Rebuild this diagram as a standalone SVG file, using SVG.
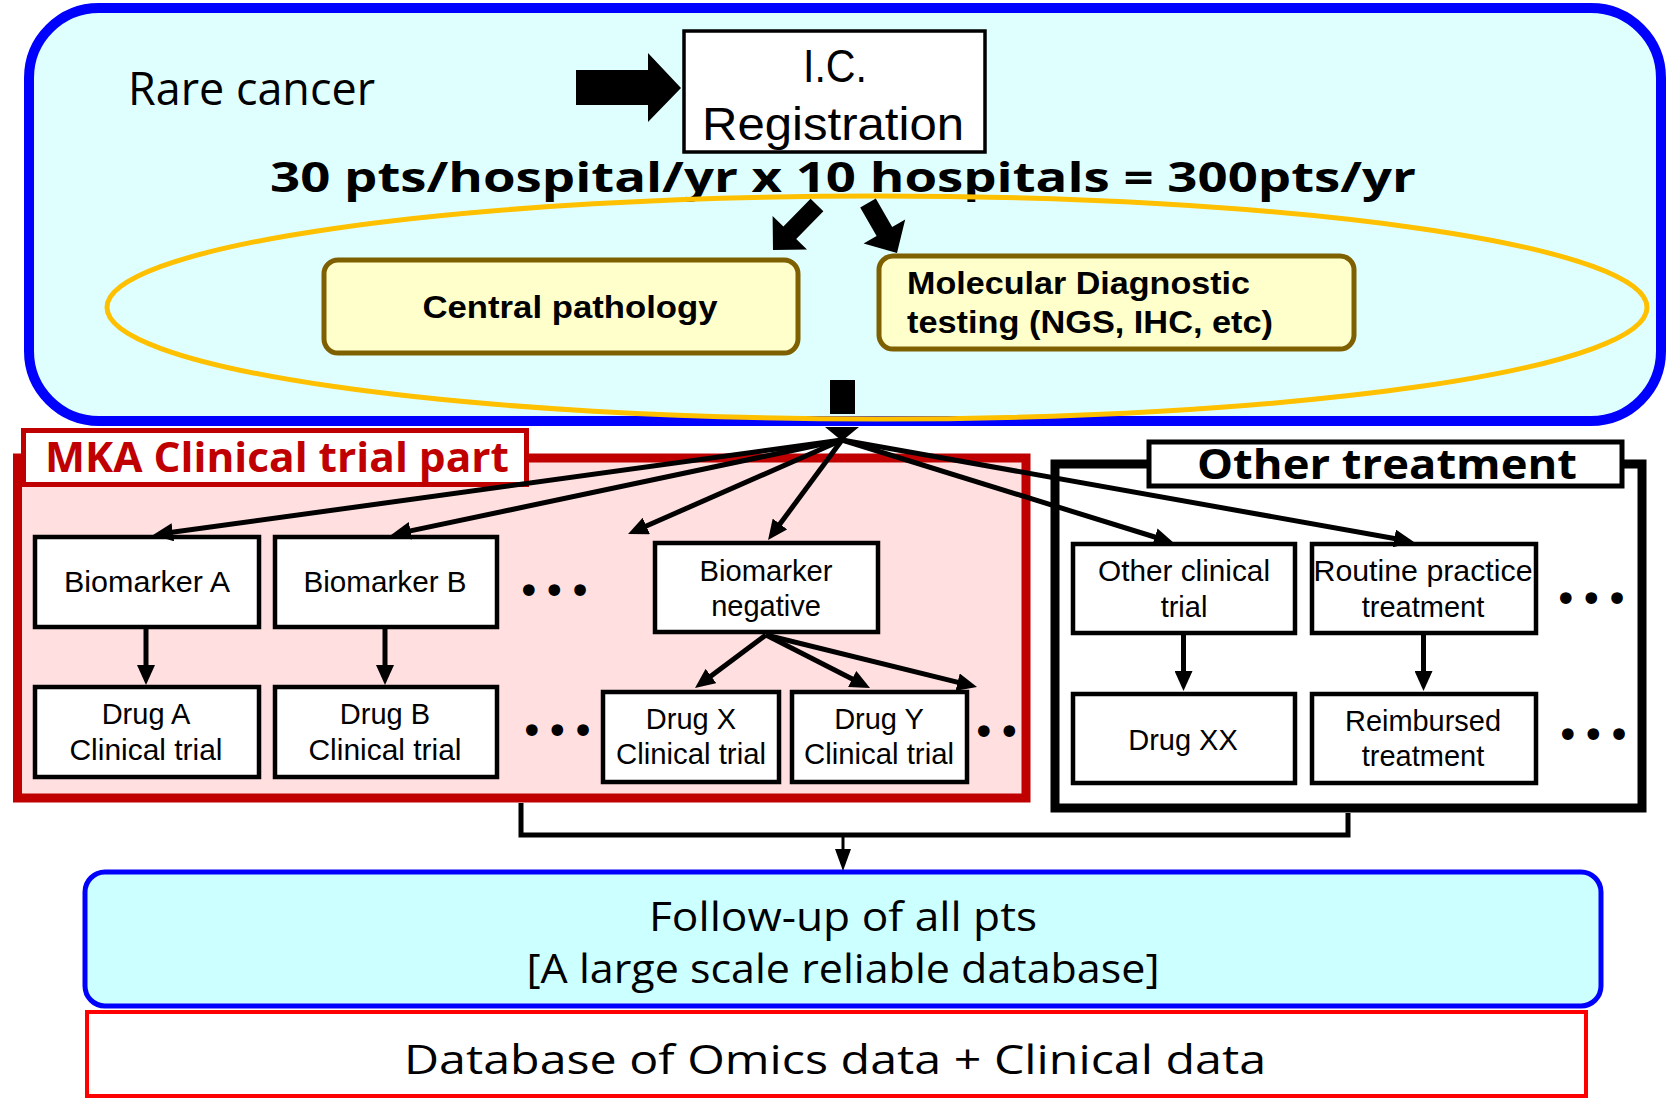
<svg xmlns="http://www.w3.org/2000/svg" width="1668" height="1098" viewBox="0 0 1668 1098">
<defs>
<marker id="ah" viewBox="0 0 20 18" refX="10" refY="9" markerWidth="20" markerHeight="18" markerUnits="userSpaceOnUse" orient="auto"><path d="M0,0 L20,9 L0,18 Z" fill="#000"/></marker>
<marker id="ahs" viewBox="0 0 22 16" refX="11" refY="8" markerWidth="22" markerHeight="16" markerUnits="userSpaceOnUse" orient="auto"><path d="M0,0 L22,8 L0,16 Z" fill="#000"/></marker>
<style>
text{font-family:"Open Sans","Liberation Sans",sans-serif;fill:#000}
.box{fill:#fff;stroke:#000;stroke-width:4.5}
.bt{font-family:"Liberation Sans",Arial,sans-serif;font-size:29px;text-anchor:middle}
.yb{fill:#FFFFCC;stroke:#7F6000;stroke-width:5}
.yt{font-family:"Liberation Sans",Arial,sans-serif;font-size:32px;font-weight:bold}
.ls{font-family:"Liberation Sans",Arial,sans-serif}
.ln{fill:none;stroke:#000;stroke-width:5;marker-end:url(#ah)}
.blk{fill:#000;stroke:none}
.dots{font-family:"DejaVu Sans",sans-serif;font-size:40px;letter-spacing:2px}
</style>
</defs>

<g id="registration-area">
<rect x="29" y="8" width="1632" height="413" rx="70" ry="70" fill="#DFFFFF" stroke="#0000FF" stroke-width="10"/>
<text x="128" y="105" font-size="45" textLength="247" lengthAdjust="spacingAndGlyphs">Rare cancer</text>
<text x="270" y="192" font-size="42" font-weight="bold" textLength="1146" lengthAdjust="spacingAndGlyphs">30 pts/hospital/yr x 10 hospitals = 300pts/yr</text>
</g>

<g id="ic-registration">
<rect x="684" y="31" width="301" height="121" fill="#fff" stroke="#000" stroke-width="3.5"/>
<text class="ls" x="835" y="82" font-size="46" text-anchor="middle" textLength="64" lengthAdjust="spacingAndGlyphs">I.C.</text>
<text class="ls" x="833" y="140" font-size="46" text-anchor="middle" textLength="262" lengthAdjust="spacingAndGlyphs">Registration</text>
</g>

<g id="diagnostics-ellipse">
<ellipse cx="877" cy="307.5" rx="770" ry="111.5" fill="none" stroke="#FFC000" stroke-width="5"/>
</g>

<g id="central-pathology">
<rect class="yb" x="324" y="260" width="474" height="93" rx="14" ry="14"/>
<text class="yt" x="570" y="318" text-anchor="middle" textLength="295" lengthAdjust="spacingAndGlyphs">Central pathology</text>
</g>

<g id="molecular-testing">
<rect class="yb" x="879" y="256" width="475" height="93" rx="14" ry="14"/>
<text class="yt" x="907" y="294" textLength="343" lengthAdjust="spacingAndGlyphs">Molecular Diagnostic</text>
<text class="yt" x="907" y="333" textLength="366" lengthAdjust="spacingAndGlyphs">testing (NGS, IHC, etc)</text>
</g>

<g id="mka-part">
<rect x="17.5" y="458" width="1008.5" height="340" fill="#FFDFDF" stroke="#C00000" stroke-width="9"/>
<rect x="23.5" y="430.5" width="503" height="54" fill="#fff" stroke="#C00000" stroke-width="5"/>
<text x="45" y="472" font-size="42" font-weight="bold" style="fill:#C00000" textLength="464" lengthAdjust="spacingAndGlyphs">MKA Clinical trial part</text>
</g>

<g id="other-treatment">
<rect x="1055" y="464" width="587" height="344" fill="#fff" stroke="#000" stroke-width="9"/>
<rect x="1149" y="442" width="473" height="44" fill="#fff" stroke="#000" stroke-width="5"/>
<text x="1197" y="479" font-size="42" font-weight="bold" textLength="380" lengthAdjust="spacingAndGlyphs">Other treatment</text>
</g>

<g id="biomarker-a">
<rect class="box" x="35" y="537" width="224" height="90"/>
<text class="bt" x="147" y="592" textLength="166" lengthAdjust="spacingAndGlyphs">Biomarker A</text>
</g>
<g id="biomarker-b">
<rect class="box" x="275" y="537" width="222" height="90"/>
<text class="bt" x="385" y="592" textLength="163" lengthAdjust="spacingAndGlyphs">Biomarker B</text>
</g>
<g id="drug-a">
<rect class="box" x="35" y="687" width="224" height="90"/>
<text class="bt" x="146" y="724">Drug A</text>
<text class="bt" x="146" y="760" textLength="153" lengthAdjust="spacingAndGlyphs">Clinical trial</text>
</g>
<g id="drug-b">
<rect class="box" x="275" y="687" width="222" height="90"/>
<text class="bt" x="385" y="724">Drug B</text>
<text class="bt" x="385" y="760" textLength="153" lengthAdjust="spacingAndGlyphs">Clinical trial</text>
</g>
<g id="biomarker-negative">
<rect class="box" x="655" y="543" width="223" height="89"/>
<text class="bt" x="766" y="581" textLength="133" lengthAdjust="spacingAndGlyphs">Biomarker</text>
<text class="bt" x="766" y="616">negative</text>
</g>
<g id="drug-x">
<rect class="box" x="603" y="692" width="176" height="90"/>
<text class="bt" x="691" y="729">Drug X</text>
<text class="bt" x="691" y="764" textLength="150" lengthAdjust="spacingAndGlyphs">Clinical trial</text>
</g>
<g id="drug-y">
<rect class="box" x="792" y="692" width="175" height="90"/>
<text class="bt" x="879" y="729">Drug Y</text>
<text class="bt" x="879" y="764" textLength="150" lengthAdjust="spacingAndGlyphs">Clinical trial</text>
</g>
<g id="other-clinical-trial">
<rect class="box" x="1073" y="544" width="222" height="89"/>
<text class="bt" x="1184" y="581" textLength="172" lengthAdjust="spacingAndGlyphs">Other clinical</text>
<text class="bt" x="1184" y="617">trial</text>
</g>
<g id="routine-practice">
<rect class="box" x="1312" y="544" width="224" height="89"/>
<text class="bt" x="1423" y="581" textLength="219" lengthAdjust="spacingAndGlyphs">Routine practice</text>
<text class="bt" x="1423" y="617">treatment</text>
</g>
<g id="drug-xx">
<rect class="box" x="1073" y="694" width="222" height="89"/>
<text class="bt" x="1183" y="750">Drug XX</text>
</g>
<g id="reimbursed">
<rect class="box" x="1312" y="694" width="224" height="89"/>
<text class="bt" x="1423" y="731" textLength="156" lengthAdjust="spacingAndGlyphs">Reimbursed</text>
<text class="bt" x="1423" y="766">treatment</text>
</g>

<g id="ellipses">
<text class="dots" x="517" y="605">•••</text>
<text class="dots" x="520" y="745">•••</text>
<text class="dots" x="972" y="746" letter-spacing="-3">••</text>
<text class="dots" x="1554" y="613">•••</text>
<text class="dots" x="1556" y="749">•••</text>
</g>

<g id="follow-up">
<rect x="85" y="872" width="1516" height="134" rx="20" ry="20" fill="#CCFFFF" stroke="#0000FF" stroke-width="5"/>
<text x="843" y="931" font-size="40" text-anchor="middle" textLength="388" lengthAdjust="spacingAndGlyphs">Follow-up of all pts</text>
<text x="843" y="983" font-size="40" text-anchor="middle" textLength="633" lengthAdjust="spacingAndGlyphs">[A large scale reliable database]</text>
</g>

<g id="database">
<rect x="87" y="1012" width="1499" height="84" fill="#fff" stroke="#FF0000" stroke-width="4"/>
<text x="835" y="1074" font-size="40" text-anchor="middle" textLength="862" lengthAdjust="spacingAndGlyphs">Database of Omics data + Clinical data</text>
</g>

<g id="connectors">
<polygon class="blk" points="576,70 648,70 648,53 681,88 648,122 648,105 576,105"/>
<polygon class="blk" points="823.4,211.3 796.2,239.1 807,249.6 773,250 772.6,216 783.4,226.5 810.6,198.7"/>
<polygon class="blk" points="860.2,207.5 876.6,235.9 863.6,243.4 897,253 905.2,219.4 892.2,226.9 875.8,198.5"/>
<rect class="blk" x="830" y="380" width="25" height="34"/>
<polygon class="blk" points="825,427 859,427 842,441"/>
<line class="ln" x1="842" y1="440" x2="162.9" y2="533.6"/>
<line class="ln" x1="842" y1="440" x2="400.8" y2="532.9"/>
<line class="ln" x1="842" y1="440" x2="637.2" y2="530"/>
<line class="ln" x1="842" y1="440" x2="774" y2="532"/>
<line class="ln" x1="842" y1="440" x2="1164.4" y2="540"/>
<line class="ln" x1="842" y1="440" x2="1404.2" y2="540.2"/>
<line class="ln" x1="146" y1="629" x2="146" y2="675"/>
<line class="ln" x1="385" y1="629" x2="385" y2="675"/>
<line class="ln" x1="766" y1="635" x2="703" y2="682"/>
<line class="ln" x1="766" y1="635" x2="861.1" y2="683.5"/>
<line class="ln" x1="766" y1="635" x2="967.3" y2="684.6"/>
<line class="ln" x1="1183.5" y1="635" x2="1183.5" y2="681"/>
<line class="ln" x1="1423.5" y1="635" x2="1423.5" y2="681"/>
<polyline points="521,803 521,835 1348,835 1348,813" fill="none" stroke="#000" stroke-width="5"/>
<line x1="843" y1="835" x2="843" y2="860" stroke="#000" stroke-width="3" marker-end="url(#ahs)"/>
</g>
</svg>
